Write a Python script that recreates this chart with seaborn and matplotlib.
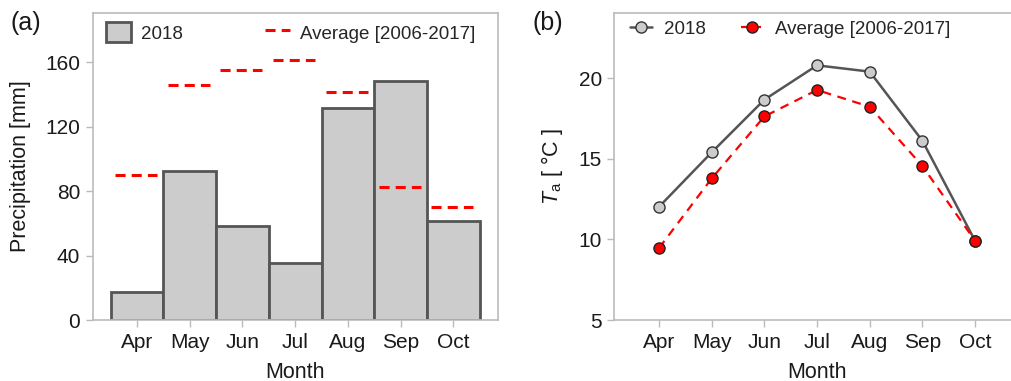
import numpy as np
import pandas as pd
import matplotlib
matplotlib.use("Agg")
import matplotlib.pyplot as plt
import seaborn as sns
from matplotlib.patches import Patch
from matplotlib.lines import Line2D

months = ["Apr", "May", "Jun", "Jul", "Aug", "Sep", "Oct"]
precip_2018 = [17.6, 92.5, 58.4, 35.6, 131.8, 148.2, 61.7]
precip_avg = [90.2, 145.7, 155.0, 161.4, 141.2, 82.8, 70.2]
temp_2018 = [12.03, 15.41, 18.68, 20.81, 20.42, 16.13, 9.92]
temp_avg = [9.47, 13.79, 17.64, 19.28, 18.24, 14.56, 9.92]
precip_ticks = [0, 40, 80, 120, 160]
temp_ticks = [5, 10, 15, 20]

sns.set_theme(style="white")
plt.rcParams["font.family"] = ["Liberation Sans", "DejaVu Sans"]
plt.rcParams["mathtext.fontset"] = "custom"
plt.rcParams["mathtext.rm"] = "Liberation Sans"
plt.rcParams["mathtext.it"] = "Liberation Sans:italic"

SPINE = "#bbbbbb"
DARK = "#555555"
TXT = "#1a1a1a"
FS_TICK = 15
FS_LAB = 15.5
FS_LEG = 13.5

fig = plt.figure(figsize=(10.11, 3.81), dpi=100)
ax1 = fig.add_axes([92.7 / 1011, 61 / 381, 405.5 / 1011, 307 / 381])
ax2 = fig.add_axes([614.3 / 1011, 61 / 381, 405.5 / 1011, 307 / 381])

# ---- panel (a)
df_p = pd.DataFrame({"Month": months, "P": precip_2018})
sns.barplot(data=df_p, x="Month", y="P", order=months, color="#cccccc",
            saturation=1, width=1.0, edgecolor=DARK, linewidth=2, ax=ax1)
xs = np.arange(len(months))
ax1.hlines(precip_avg, xs - 0.42, xs + 0.38, colors="red", linewidth=2.2,
           linestyles=(0, (3.3, 2.0)), zorder=3)
ax1.set_xlim(-0.84, 6.85)
ax1.set_ylim(0, 190.5)
ax1.set_yticks(precip_ticks)
ax1.set_ylabel("Precipitation [mm]", fontsize=FS_LAB, labelpad=10)
ax1.set_xlabel("Month", fontsize=FS_LAB, labelpad=7.5)
h1 = [Patch(facecolor="#cccccc", edgecolor=DARK, linewidth=2),
      Line2D([0], [0], color="red", linewidth=2.2, linestyle=(0, (3.3, 2.0)))]
ax1.legend(h1, ["2018", "Average [2006-2017]"], ncol=2, frameon=False,
           loc="upper left", bbox_to_anchor=(0.015, 0.995), fontsize=FS_LEG,
           borderaxespad=0, borderpad=0.4,
           handlelength=1.3, handleheight=1.3, columnspacing=4.4,
           handletextpad=0.55)

# ---- panel (b)
df_t = pd.DataFrame({"Month": months * 2,
                     "T": temp_2018 + temp_avg,
                     "S": ["2018"] * 7 + ["Average [2006-2017]"] * 7})
sns.pointplot(data=df_t[df_t.S == "2018"], x="Month", y="T", order=months,
              color=DARK, markers="o", linestyles="-", linewidth=1.8,
              markersize=8, markerfacecolor="#cccccc", markeredgecolor="#333333",
              markeredgewidth=1.0, errorbar=None, ax=ax2)
sns.pointplot(data=df_t[df_t.S != "2018"], x="Month", y="T", order=months,
              color="red", markers="o", linestyles="--", linewidth=1.6,
              markersize=8, markerfacecolor="red", markeredgecolor="#222222",
              markeredgewidth=1.0, errorbar=None, ax=ax2)
for ln in ax2.lines[-1:]:
    ln.set_dashes((4, 3))
ax2.set_xlim(-0.85, 6.85)
ax2.set_ylim(5, 24.06)
ax2.set_yticks(temp_ticks)
ax2.set_ylabel(r"$T_\mathrm{a}$ [ °C ]", fontsize=FS_LAB, labelpad=10)
ax2.set_xlabel("Month", fontsize=FS_LAB, labelpad=7.5)
h2 = [Line2D([0], [0], color=DARK, linewidth=1.8, marker="o", markersize=8,
             markerfacecolor="#cccccc", markeredgecolor="#333333"),
      Line2D([0], [0], color="red", linewidth=1.6, linestyle="--", marker="o",
             markersize=8, markerfacecolor="red", markeredgecolor="#222222")]
ax2.legend(h2, ["2018", "Average [2006-2017]"], ncol=2, frameon=False,
           loc="upper left", bbox_to_anchor=(0.02, 1.0), fontsize=FS_LEG,
           borderaxespad=0, borderpad=0.4,
           handlelength=1.2, columnspacing=1.9, handletextpad=0.6)

for ax in (ax1, ax2):
    for s in ax.spines.values():
        s.set_color(SPINE)
        s.set_linewidth(1.2)
        s.set_visible(True)
    ax.tick_params(axis="both", which="major", direction="out", length=5,
                   width=1, color=SPINE, labelsize=FS_TICK, pad=4,
                   bottom=True, left=True, labelcolor=TXT)
    ax.xaxis.label.set_color(TXT)
    ax.yaxis.label.set_color(TXT)
    ax.grid(False)

fig.text(10 / 1011, 1 - 23 / 381, "(a)", fontsize=18, va="center", ha="left", color=TXT)
fig.text(532 / 1011, 1 - 23 / 381, "(b)", fontsize=18, va="center", ha="left", color=TXT)

fig.savefig("out.png", dpi=100)
